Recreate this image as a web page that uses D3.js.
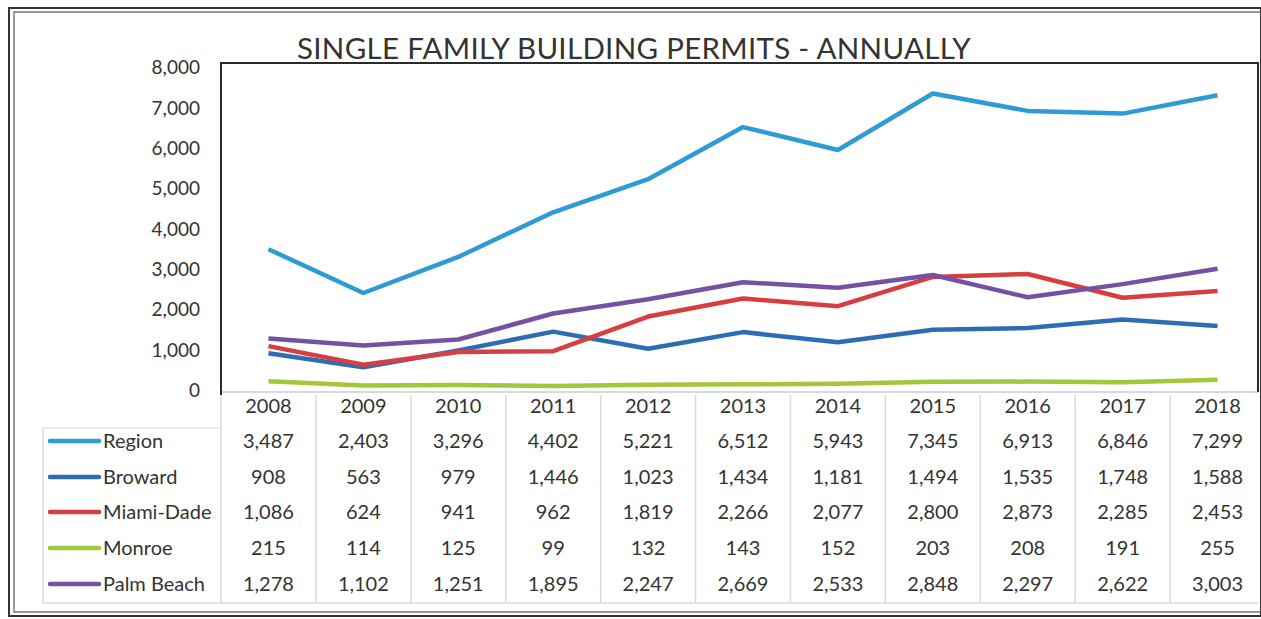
<!DOCTYPE html>
<html>
<head>
<meta charset="utf-8">
<script src="https://cdn.jsdelivr.net/npm/d3@7"></script>
<style>
  html, body { margin: 0; padding: 0; background: #fff; }
  svg { display: block; }
  text { font-family: Lato, "Open Sans", "Liberation Sans", sans-serif; fill: #333; }
</style>
</head>
<body>
<svg id="chart" width="1261" height="619"></svg>
<script>
const title = "SINGLE FAMILY BUILDING PERMITS - ANNUALLY";
const years = ["2008","2009","2010","2011","2012","2013","2014","2015","2016","2017","2018"];
const seriesNames = ["Region","Broward","Miami-Dade","Monroe","Palm Beach"];
const region    = [3487, 2403, 3296, 4402, 5221, 6512, 5943, 7345, 6913, 6846, 7299];
const broward   = [908, 563, 979, 1446, 1023, 1434, 1181, 1494, 1535, 1748, 1588];
const miamiDade = [1086, 624, 941, 962, 1819, 2266, 2077, 2800, 2873, 2285, 2453];
const monroe    = [215, 114, 125, 99, 132, 143, 152, 203, 208, 191, 255];
const palmBeach = [1278, 1102, 1251, 1895, 2247, 2669, 2533, 2848, 2297, 2622, 3003];
const yTicks = [0, 1000, 2000, 3000, 4000, 5000, 6000, 7000, 8000];

const seriesValues = [region, broward, miamiDade, monroe, palmBeach];
const colors = ["#2f9bd5", "#2e6cb4", "#d63f3f", "#a3c63a", "#7451a2"];

const svg = d3.select("#chart");

// outer double frame
svg.append("rect").attr("x", 9).attr("y", 8).attr("width", 1252).attr("height", 608)
  .attr("fill", "none").attr("stroke", "#333").attr("stroke-width", 2);
svg.append("rect").attr("x", 14).attr("y", 12).attr("width", 1250).attr("height", 600)
  .attr("fill", "none").attr("stroke", "#555").attr("stroke-width", 1.2);

const plotL = 221, plotR = 1258, plotT = 63, plotB = 392;
const x = d3.scaleBand().domain(years).range([plotL, 1265]);
const y = d3.scaleLinear().domain([0, 8000]).range([390, 67]);

// plot frame
svg.append("line").attr("x1", plotL).attr("x2", plotR).attr("y1", plotB).attr("y2", plotB)
  .attr("stroke", "#c8ccd4").attr("stroke-width", 1.5);
svg.append("path").attr("d", `M${plotL},${plotB + 3}V${plotT}H${plotR}V${plotB}`)
  .attr("fill", "none").attr("stroke", "#2a2a2a").attr("stroke-width", 2);

// title
const t = svg.append("text").attr("x", 634).attr("y", 59).attr("text-anchor", "middle")
  .style("font-size", "30px").style("letter-spacing", "0.3px").text(title);
const tw = t.node().getComputedTextLength();
t.style("font-size", (30 * 674 / tw).toFixed(2) + "px");

// y axis
const yAxis = d3.axisLeft(y).tickValues(yTicks).tickSize(0).tickPadding(0).tickFormat(d3.format(","));
const gy = svg.append("g").attr("transform", "translate(200,0)").call(yAxis);
gy.select(".domain").remove();
gy.selectAll("text").style("font-size", "19px").attr("fill", "#333").attr("dy", "0.35em");

// lines
const line = d3.line().x((d, i) => x(years[i]) + x.bandwidth() / 2).y(d => y(d));
const drawOrder = [3, 1, 2, 4, 0];
drawOrder.forEach(si => {
  svg.append("path").datum(seriesValues[si]).attr("d", line)
    .attr("fill", "none").attr("stroke", colors[si]).attr("stroke-width", 4.5)
    .attr("stroke-linejoin", "round");
});

// data table
const tableTop = 395, tableBot = 603, legendL = 43;
const rowY = [406, 441, 477, 512, 548, 584];
const gridColor = "#d3dbe6";
years.forEach((yr, i) => {
  svg.append("line").attr("x1", x(yr)).attr("x2", x(yr)).attr("y1", tableTop).attr("y2", tableBot)
    .attr("stroke", gridColor).attr("stroke-width", 1.5);
});
svg.append("line").attr("x1", legendL).attr("x2", legendL).attr("y1", 428).attr("y2", tableBot)
  .attr("stroke", gridColor).attr("stroke-width", 1.5);
svg.append("line").attr("x1", legendL).attr("x2", plotR).attr("y1", tableBot).attr("y2", tableBot)
  .attr("stroke", gridColor).attr("stroke-width", 1.5);
svg.append("line").attr("x1", legendL).attr("x2", plotL).attr("y1", 428).attr("y2", 428)
  .attr("stroke", gridColor).attr("stroke-width", 1.2);

const fmt = d3.format(",");
const tfont = "20px";
years.forEach((yr, i) => {
  svg.append("text").attr("x", x(yr) + x.bandwidth() / 2).attr("y", rowY[0]).attr("dy", "0.35em")
    .attr("text-anchor", "middle").style("font-size", tfont).text(yr);
});
seriesNames.forEach((name, si) => {
  const ry = rowY[si + 1];
  svg.append("line").attr("x1", 50).attr("x2", 99).attr("y1", ry).attr("y2", ry)
    .attr("stroke", colors[si]).attr("stroke-width", 4.5).attr("stroke-linecap", "round");
  svg.append("text").attr("x", 103).attr("y", ry).attr("dy", "0.35em")
    .style("font-size", tfont).text(name);
  seriesValues[si].forEach((v, i) => {
    svg.append("text").attr("x", x(years[i]) + x.bandwidth() / 2).attr("y", ry).attr("dy", "0.35em")
      .attr("text-anchor", "middle").style("font-size", tfont).text(fmt(v));
  });
});
</script>
</body>
</html>
